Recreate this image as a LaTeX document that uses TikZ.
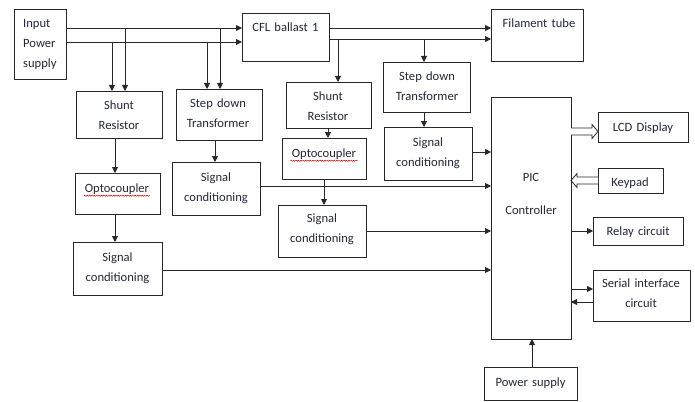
\documentclass[tikz,border=0pt]{standalone}
\usepackage{fontspec}
\setmainfont{Carlito}
\usetikzlibrary{arrows.meta,fit,calc,decorations.pathmorphing}
\definecolor{ln}{RGB}{40,40,40}
\definecolor{tx}{RGB}{35,38,55}
\tikzset{
  box/.style={draw=ln, line width=0.9pt, inner sep=0pt, outer sep=0pt},
  txt/.style={font=\fontsize{12.6}{20}\selectfont, text=tx, align=center, text width=110pt, anchor=base, inner sep=0pt},
  arr/.style={draw=ln, line width=0.9pt, -{Triangle[length=6pt,width=6pt]}},
  plain/.style={draw=ln, line width=0.9pt},
  hollow/.style={draw=ln, line width=0.8pt, fill=white, line join=miter},
  squig/.style={draw=red!80!black, line width=0.45pt, decorate, decoration={snake, amplitude=0.6pt, segment length=2.4pt}}
}
\newcommand\bx[5]{\node[box, fit={(#2,#3) (#4,#5)}] (#1) {};}
\begin{document}
\begin{tikzpicture}[x=1pt,y=-1pt]
\useasboundingbox (0,0) rectangle (695,401);
% boxes
\bx{inp}{14}{9}{66}{79}
\bx{cfl}{242}{13}{329}{61}
\bx{fil}{491}{9}{583}{61}
\bx{sh1}{76}{91}{162}{138}
\bx{st1}{176}{89}{262}{140}
\bx{sh2}{286}{82}{371}{128}
\bx{st2}{383}{62}{470}{112}
\bx{op1}{75}{173}{160}{214}
\bx{op2}{282}{138}{366}{179}
\bx{sc1}{172}{162}{260}{215}
\bx{sc2}{384}{127}{472}{180}
\bx{sc3}{278}{205}{366}{257}
\bx{sc4}{73}{242}{162}{295}
\bx{pic}{491}{97}{571}{339}
\bx{lcd}{598}{112}{688}{142}
\bx{key}{598}{168}{663}{193}
\bx{relay}{593}{217}{683}{245}
\bx{ser}{593}{270}{690}{321}
\bx{pwr}{484}{367}{577}{400}
% texts
\node[txt, align=left, text width=50pt, anchor=base west] (tinp) at (23,27.5) {Input\\Power\\supply};
\node[txt] (tcfl) at (285.5,31.5) {CFL ballast 1};
\node[txt] (tfil) at (539,27.5) {Filament tube};
\node[txt] (tsh1) at (119,109.5) {Shunt\\Resistor};
\node[txt] (tst1) at (218,107.5) {Step down\\Transformer};
\node[txt] (tsh2) at (328,100.5) {Shunt\\Resistor};
\node[txt] (tst2) at (427,80.5) {Step down\\Transformer};
\node[txt] (top1) at (117,192.5) {Optocoupler};
\node[txt] (top2) at (324,157.5) {Optocoupler};
\node[txt] (tsc1) at (216,181.5) {Signal\\conditioning};
\node[txt] (tsc2) at (428,146.5) {Signal\\conditioning};
\node[txt] (tsc3) at (322,222.5) {Signal\\conditioning};
\node[txt] (tsc4) at (117.5,261.5) {Signal\\conditioning};
\node[txt] (tpic) at (531,181.5) {PIC\\[13pt]Controller};
\node[txt] (tlcd) at (643,131.5) {LCD Display};
\node[txt] (tkey) at (630,186.5) {Keypad};
\node[txt] (trel) at (638,235.5) {Relay circuit};
\node[txt] (tser) at (641,287.5) {Serial interface\\circuit};
\node[txt] (tpwr) at (530.5,386.5) {Power supply};
% spell-check underlines
\draw[squig] ($(top1.base)+(-33,3.2)$) -- ($(top1.base)+(33,3.2)$);
\draw[squig] ($(top2.base)+(-33.5,3.2)$) -- ($(top2.base)+(33.5,3.2)$);
% levels
\coordinate (L1) at (0,28);
\coordinate (L2) at (0,42);
\coordinate (L3) at (0,39);
% main supply lines
\draw[arr] (inp.east |- L1) -- (cfl.west |- L1);
\draw[arr] (inp.east |- L2) -- (cfl.west |- L2);
\draw[arr] (cfl.east |- L1) -- (fil.west |- L1);
\draw[arr] (cfl.east |- L3) -- (fil.west |- L3);
% branches
\coordinate (b1) at (112,42);
\coordinate (b2) at (125,28);
\coordinate (b3) at (207,42);
\coordinate (b4) at (220,28);
\coordinate (b5) at (338,39);
\coordinate (b6) at (424,39);
\draw[arr] (b1) -- (b1 |- sh1.north);
\draw[arr] (b2) -- (b2 |- sh1.north);
\draw[arr] (b3) -- (b3 |- st1.north);
\draw[arr] (b4) -- (b4 |- st1.north);
\draw[arr] (b5) -- (b5 |- sh2.north);
\draw[arr] (b6) -- (b6 |- st2.north);
% vertical chains
\coordinate (x1) at (115,0);
\coordinate (x2) at (215,0);
\coordinate (x3) at (328,0);
\coordinate (x4) at (324,0);
\coordinate (x5) at (424,0);
\coordinate (x6) at (532,0);
\draw[arr] (sh1.south -| x1) -- (op1.north -| x1);
\draw[arr] (op1.south -| x1) -- (sc4.north -| x1);
\draw[arr] (st1.south -| x2) -- (sc1.north -| x2);
\draw[arr] (sh2.south -| x3) -- (op2.north -| x3);
\draw[arr] (op2.south -| x4) -- (sc3.north -| x4);
\draw[arr] (st2.south -| x5) -- (sc2.north -| x5);
\draw[arr] (pwr.north -| x6) -- (pic.south -| x6);
% inputs to PIC
\coordinate (y1) at (0,152);
\coordinate (y2) at (0,186);
\coordinate (y3) at (0,231);
\coordinate (y4) at (0,270);
\draw[arr] (sc2.east |- y1) -- (pic.west |- y1);
\draw[arr] (sc1.east |- y2) -- (pic.west |- y2);
\draw[arr] (sc3.east |- y3) -- (pic.west |- y3);
\draw[arr] (sc4.east |- y4) -- (pic.west |- y4);
% outputs of PIC
\coordinate (y5) at (0,231);
\coordinate (y6) at (0,289);
\coordinate (y7) at (0,302);
\draw[arr] (pic.east |- y5) -- (relay.west |- y5);
\draw[arr] (pic.east |- y6) -- (ser.west |- y6);
\draw[arr] (ser.west |- y7) -- (pic.east |- y7);
% hollow arrows
\coordinate (ha) at (0,131.5);
\coordinate (hs) at (pic.east |- ha);
\coordinate (he) at (lcd.west |- ha);
\draw[hollow] (hs) ++(0,-3.5) -- ($(he)+(-6,-3.5)$) -- ($(he)+(-6,-7)$) -- (he) -- ($(he)+(-6,7)$) -- ($(he)+(-6,3.5)$) -- ($(hs)+(0,3.5)$);
\coordinate (hb) at (0,180.5);
\coordinate (ks) at (key.west |- hb);
\coordinate (ke) at (pic.east |- hb);
\draw[hollow] (ks) ++(0,-3.5) -- ($(ke)+(6,-3.5)$) -- ($(ke)+(6,-7)$) -- (ke) -- ($(ke)+(6,7)$) -- ($(ke)+(6,3.5)$) -- ($(ks)+(0,3.5)$);
\end{tikzpicture}
\end{document}
